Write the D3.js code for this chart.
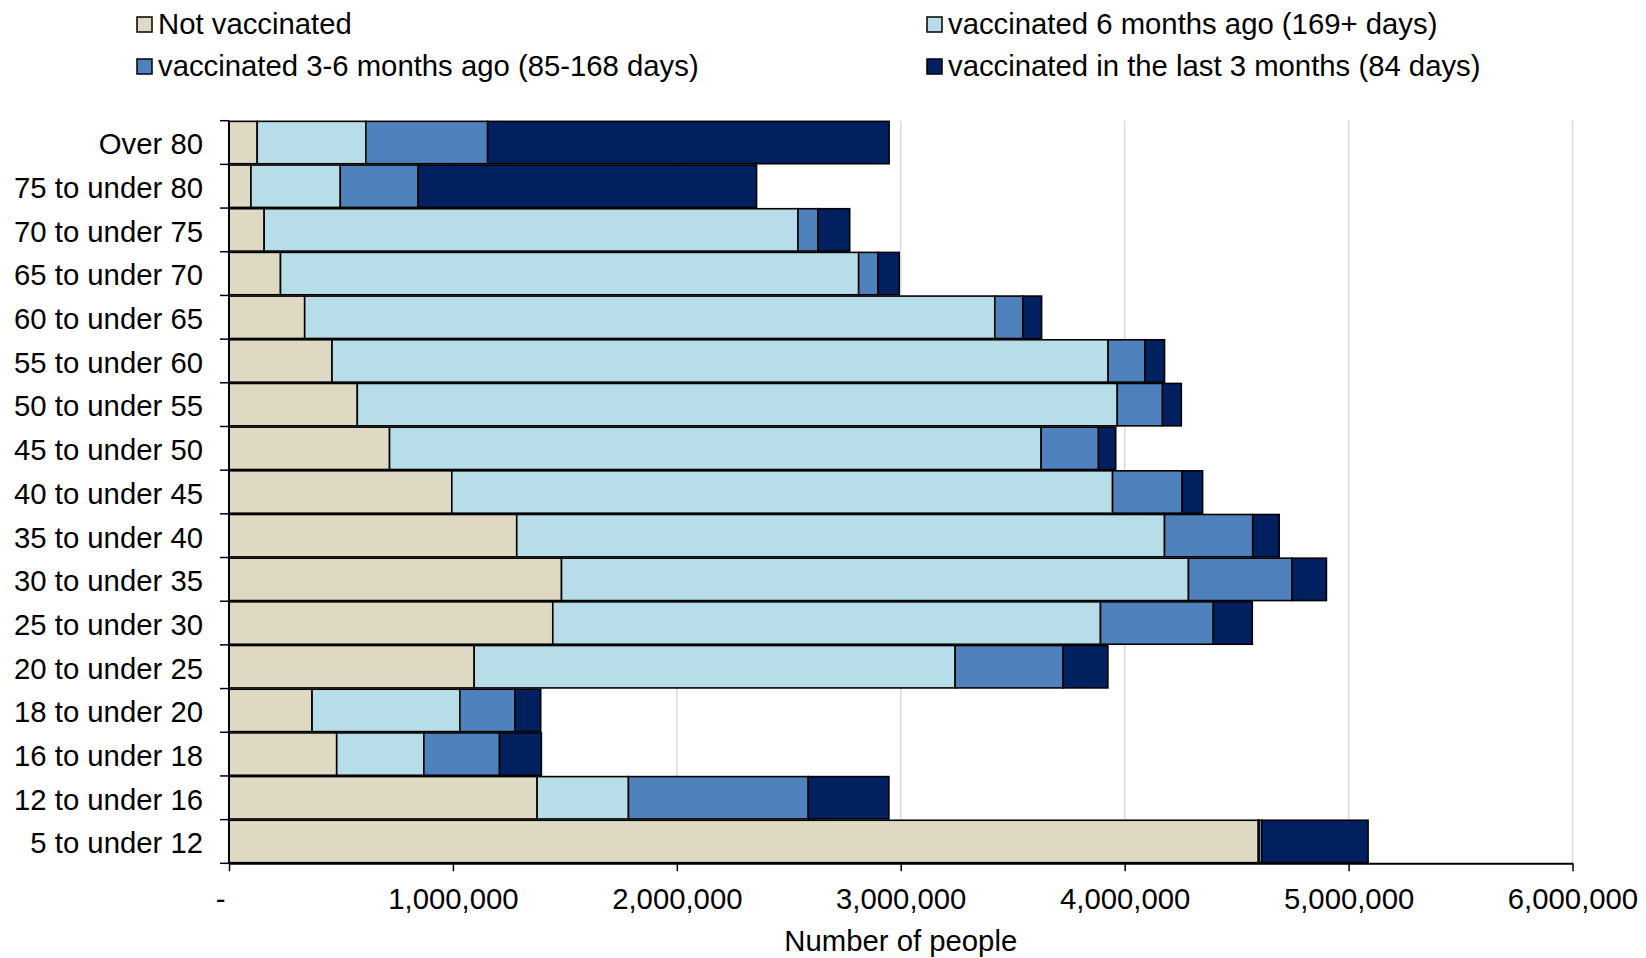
<!DOCTYPE html>
<html>
<head>
<meta charset="utf-8">
<script src="https://cdn.jsdelivr.net/npm/d3@7"></script>
<style>
  html, body { margin: 0; padding: 0; background: #fff; }
  svg { display: block; font-family: "Liberation Sans", Arial, sans-serif; }
</style>
</head>
<body>
<svg id="chart" width="1646" height="958"></svg>
<script>
const categories = ["Over 80","75 to under 80","70 to under 75","65 to under 70","60 to under 65","55 to under 60","50 to under 55","45 to under 50","40 to under 45","35 to under 40","30 to under 35","25 to under 30","20 to under 25","18 to under 20","16 to under 18","12 to under 16","5 to under 12"];
const seriesNames = ["Not vaccinated","vaccinated 6 months ago (169+ days)","vaccinated 3-6 months ago (85-168 days)","vaccinated in the last 3 months (84 days)"];
const notVaccinated = [126000, 98000, 157000, 230000, 338000, 460000, 573000, 717000, 995000, 1285000, 1485000, 1446000, 1095000, 371000, 481000, 1376000, 4597000];
const vacc6Plus     = [485000, 399000, 2384000, 2582000, 3082000, 3466000, 3394000, 2910000, 2951000, 2893000, 2800000, 2446000, 2148000, 660000, 389000, 408000, 3000];
const vacc3to6      = [544000, 348000, 89000, 87000, 125000, 164000, 202000, 256000, 311000, 394000, 462000, 504000, 482000, 247000, 338000, 803000, 13000];
const vaccLast3     = [1793000, 1511000, 142000, 94000, 84000, 88000, 84000, 77000, 91000, 118000, 154000, 174000, 200000, 114000, 187000, 360000, 474000];
const xTickValues = [0, 1000000, 2000000, 3000000, 4000000, 5000000, 6000000];
const xTickLabels = ["-", "1,000,000", "2,000,000", "3,000,000", "4,000,000", "5,000,000", "6,000,000"];
const colors = ["#DDD9C3", "#B7DDE8", "#4F81BD", "#002060"];

const seriesArrays = [notVaccinated, vacc6Plus, vacc3to6, vaccLast3];
const keys = ["s0","s1","s2","s3"];
const table = categories.map((c, i) => {
  const row = { cat: c };
  keys.forEach((k, j) => row[k] = seriesArrays[j][i]);
  return row;
});

const svg = d3.select("#chart");
const fontSize = 29.3;
const plotLeft = 229, plotRight = 1572.5, plotTop = 120.7, plotBottom = 863.3;

const x = d3.scaleLinear().domain([0, 6000000]).range([plotLeft, plotRight]);
const y = d3.scaleBand().domain(categories).range([plotTop, plotBottom]).paddingInner(0.03).paddingOuter(0.015);

// gridlines
svg.append("g")
  .selectAll("line")
  .data(xTickValues.slice(1))
  .join("line")
  .attr("x1", d => x(d)).attr("x2", d => x(d))
  .attr("y1", plotTop).attr("y2", plotBottom)
  .attr("stroke", "#d9d9d9").attr("stroke-width", 1.5);

// stacked bars
const stack = d3.stack().keys(keys);
const stacked = stack(table);
svg.append("g")
  .selectAll("g")
  .data(stacked)
  .join("g")
  .attr("fill", (d, i) => colors[i])
  .selectAll("rect")
  .data(d => d)
  .join("rect")
  .attr("x", d => x(d[0]))
  .attr("width", d => Math.max(0, x(d[1]) - x(d[0])))
  .attr("y", d => y(d.data.cat))
  .attr("height", y.bandwidth())
  .attr("stroke", "#000")
  .attr("stroke-width", 1.6);

// x axis
const xAxis = d3.axisBottom(x)
  .tickValues(xTickValues)
  .tickFormat((d, i) => xTickLabels[i])
  .tickSize(8)
  .tickSizeOuter(0);
const gx = svg.append("g")
  .attr("transform", `translate(0,${plotBottom})`)
  .call(xAxis);
gx.select(".domain").attr("stroke", "#000").attr("stroke-width", 2);
gx.selectAll(".tick line").attr("stroke", "#000").attr("stroke-width", 1.5);
gx.selectAll(".tick text")
  .attr("font-size", fontSize)
  .attr("font-family", "Liberation Sans, Arial, sans-serif")
  .attr("fill", "#000")
  .attr("y", 25)
  .attr("dx", (d, i) => i === 0 ? -9 : 0);

// y axis
const yAxis = d3.axisLeft(y).tickSize(0).tickPadding(26);
const gy = svg.append("g")
  .attr("transform", `translate(${plotLeft},0)`)
  .call(yAxis);
gy.select(".domain").remove();
gy.selectAll(".tick text")
  .attr("font-size", fontSize)
  .attr("font-family", "Liberation Sans, Arial, sans-serif")
  .attr("fill", "#000")
  .attr("dy", "0.37em")
  .attr("y", 1);
gy.append("line")
  .attr("x1", 0).attr("x2", 0)
  .attr("y1", plotTop).attr("y2", plotBottom)
  .attr("stroke", "#000").attr("stroke-width", 2);
// category boundary ticks
const step = (plotBottom - plotTop) / categories.length;
gy.append("g")
  .selectAll("line")
  .data(d3.range(categories.length + 1))
  .join("line")
  .attr("x1", -9).attr("x2", 0)
  .attr("y1", i => plotTop + i * step).attr("y2", i => plotTop + i * step)
  .attr("stroke", "#000").attr("stroke-width", 1.5);

// axis title
svg.append("text")
  .attr("x", x(3000000)).attr("y", 951)
  .attr("text-anchor", "middle")
  .attr("font-size", fontSize)
  .attr("fill", "#000")
  .text("Number of people");

// legend
const legendPos = [
  { x: 137, y: 34 }, { x: 927, y: 34 },
  { x: 137, y: 76 }, { x: 927, y: 76 }
];
const lg = svg.append("g").selectAll("g")
  .data(seriesNames)
  .join("g")
  .attr("transform", (d, i) => `translate(${legendPos[i].x},${legendPos[i].y})`);
lg.append("rect")
  .attr("x", 0).attr("y", -17).attr("width", 15).attr("height", 15)
  .attr("fill", (d, i) => colors[i])
  .attr("stroke", "#000").attr("stroke-width", 1.5);
lg.append("text")
  .attr("x", 21).attr("y", 0)
  .attr("font-size", fontSize)
  .attr("fill", "#000")
  .text(d => d);
</script>
</body>
</html>
